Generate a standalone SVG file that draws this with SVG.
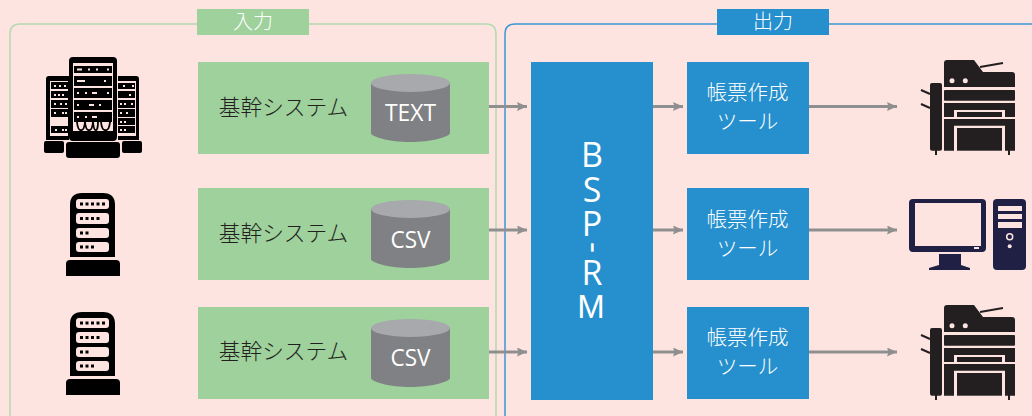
<svg xmlns="http://www.w3.org/2000/svg" xmlns:xlink="http://www.w3.org/1999/xlink" width="1032" height="416" viewBox="0 0 1032 416">
<style>
.t{font-family:"Noto Sans CJK JP","Noto Sans",sans-serif;font-weight:300}
.l{font-family:"Open Sans","Noto Sans",sans-serif}
.box{fill:#9ed19b}
.blue{fill:#268fcd}
.w{fill:#fff;text-anchor:middle}
.k{fill:#231f20;font-size:21.700px;text-anchor:middle}
.conn{stroke:#8f8f8f;stroke-width:3;fill:none;marker-end:url(#a)}
.dot{fill:#fde4e0}
</style>
<defs>
<marker id="a" markerUnits="userSpaceOnUse" markerWidth="10" markerHeight="10" refX="10" refY="4.500" orient="auto"><path d="M0 0L10 4.500L0 9L1.500 4.500z" fill="#8f8f8f"/></marker>
<g id="cyl">
<path d="M371 83V133C371 137 390 142 410 142S450 137 450 133V83z" fill="#808184"/>
<ellipse cx="410.500" cy="83" rx="39.500" ry="9" fill="#a7a9ac"/>
</g>
<g id="rack">
<path d="M70 205Q70 193 82 193H103Q115 193 115 205V257H70z" fill="#000"/>
<path d="M66 264Q66 260 70 260H116Q120 260 120 264V276H66z" fill="#000"/>
<g class="dot"><rect x="76" y="199" width="33" height="10" rx="3"/><rect x="76" y="213" width="33" height="11" rx="3"/><rect x="76" y="228" width="33" height="10" rx="3"/><rect x="76" y="242" width="33" height="10" rx="3"/></g>
<path d="M80 202.500h3v3h-3zM85.500 202.500h3v3h-3zM91 202.500h3v3h-3zM96.500 202.500h3v3h-3zM102 202.500h3v3h-3zM80 217h3v3h-3zM85.500 217h3v3h-3zM91 217h3v3h-3zM96.500 217h3v3h-3zM80 231.500h3v3h-3zM85.500 231.500h3v3h-3zM80 245.500h3v3h-3zM85.500 245.500h3v3h-3zM91 245.500h3v3h-3z" fill="#000"/>
</g>
<g id="printer" fill="#231f20">
<path d="M944 63Q944 60 947 60H974L983 72H1012Q1015 72 1015 75V87H944z"/>
<path d="M980 67L1003 63" stroke="#231f20" stroke-width="2" fill="none"/>
<circle cx="952" cy="80.700" r="2.500" fill="#fde4e0"/><circle cx="965.300" cy="80.700" r="2.500" fill="#fde4e0"/>
<rect x="944" y="90" width="71" height="10.700" rx="1"/>
<path d="M944 103H1015V117H1005V110H954V117H944z"/>
<rect x="957" y="112" width="45" height="5"/>
<path d="M944 119H1015V150.700H1005V125.700H954V150.700H944z"/>
<rect x="957" y="128" width="45" height="22.700"/>
<rect x="930" y="83" width="12" height="67.700" rx="2"/>
<path d="M935 150h2v5h-2zM1008 150h2v5h-2z"/>
<path d="M921 90L930 94M921 104L930 108" stroke="#231f20" stroke-width="2" fill="none"/>
</g>
</defs>
<rect width="1032" height="416" fill="#fde4e0"/>
<g id="panel-in">
<path d="M10 416V34Q10 24 20 24H486Q496 24 496 34V416" fill="none" stroke="#b3d9ae" stroke-width="1.500"/>
<rect x="197" y="9" width="112" height="26" class="box"/>
<text x="253" y="29" class="t w" font-size="20">入力</text>
</g>
<g id="panel-out">
<path d="M505 416V34Q505 24 515 24H1032" fill="none" stroke="#3a96d6" stroke-width="1.500"/>
<rect x="717" y="9" width="112" height="26" class="blue"/>
<text x="773" y="29" class="t w" font-size="20">出力</text>
</g>
<g id="connectors">
<path class="conn" d="M489 106.500H527"/><path class="conn" d="M489 230H527"/><path class="conn" d="M489 352H527"/>
<path class="conn" d="M653 106.500H683"/><path class="conn" d="M653 230H683"/><path class="conn" d="M653 352H683"/>
<path class="conn" d="M809 106.500H897"/><path class="conn" d="M809 230H897"/><path class="conn" d="M809 352H897"/>
</g>
<g id="server-1">
<path d="M46 79Q46 76 49 76H69V140H46zM118 76H136Q139 76 139 79V140H118z" fill="#000"/>
<path d="M50 81H68V136H50zM118 81H136V136H118z" fill="#fde4e0"/>
<path d="M51 82H68V89H51zM51 91H68V98H51zM51 100H68V108H51zM51 109H68V117H51zM51 126H68V133H51zM118 83H135V89H118zM118 91H135V98H118zM118 100H135V108H118zM118 109H135V117H118zM118 118H135V125H118zM118 126H135V133H118z" fill="#000"/>
<path d="M54 85h2v2h-2zM59 85h2v2h-2zM64 85h2v2h-2zM54 94h2v2h-2zM58 94h2v2h-2zM62 94h2v2h-2zM54 103h2v2h-2zM60 103h2v2h-2zM65 103h2v2h-2zM54 112h2v2h-2zM62 112h2v2h-2zM65 112h2v2h-2zM55 129h2v2h-2zM62 129h2v2h-2zM65 129h2v2h-2zM123 85h2v2h-2zM132 85h2v2h-2zM129 94h2v2h-2zM120 103h2v2h-2zM124 103h2v2h-2zM131 103h2v2h-2zM120 112h2v2h-2zM126 112h2v2h-2zM120 121h2v2h-2zM124 121h2v2h-2zM120 129h2v2h-2zM124 129h2v2h-2z" fill="#fde4e0"/>
<rect x="44" y="141" width="20" height="12" rx="2" fill="#000"/><rect x="122" y="141" width="20" height="12" rx="2" fill="#000"/>
<rect x="69" y="57" width="48" height="84" rx="4" fill="#000"/>
<rect x="73" y="63" width="40" height="68" fill="#fde4e0"/>
<path d="M74 66H112V73H74zM74 76H112V86H74zM74 88H112V98H74zM74 100H112V110H74zM74 112H112V122H74z" fill="#000"/>
<path d="M77 68.500h5v2h-5zM88 68.500h2v2h-2zM96 68.500h2v2h-2zM107 68.500h2v2h-2zM77 80h8v2h-8zM104 80h2v2h-2zM77 92h2v2h-2zM85 92h2v2h-2zM92 92h5v2h-5zM107 92h2v2h-2zM77 104h2v2h-2zM89 104h5v2h-5zM99 104h2v2h-2zM77 116h2v2h-2zM85 116h2v2h-2zM92 116h5v2h-5z" fill="#fde4e0"/>
<path d="M77 122C78 133 84 133 85 122C86 133 92 133 93 122C94 133 98 133 98 122M101 122C102 133 109 133 110 122" fill="none" stroke="#000" stroke-width="1.800"/>
<rect x="66" y="142" width="54" height="16" rx="3" fill="#000"/>
</g>
<g id="server-2"><use xlink:href="#rack"/></g>
<g id="server-3"><use xlink:href="#rack" y="119"/></g>
<g id="system-1">
<rect x="198" y="62" width="291" height="92" class="box"/>
<text x="283.500" y="115" class="t k">基幹システム</text>
<use xlink:href="#cyl"/>
<text x="410.500" y="120.500" class="l w" font-size="24" textLength="51" lengthAdjust="spacingAndGlyphs">TEXT</text>
</g>
<g id="system-2">
<rect x="198" y="188" width="291" height="92" class="box"/>
<text x="283.500" y="241" class="t k">基幹システム</text>
<use xlink:href="#cyl" y="126"/>
<text x="410.500" y="248" class="l w" font-size="24" textLength="40" lengthAdjust="spacingAndGlyphs">CSV</text>
</g>
<g id="system-3">
<rect x="198" y="307" width="291" height="92" class="box"/>
<text x="283.500" y="359" class="t k">基幹システム</text>
<use xlink:href="#cyl" y="245"/>
<text x="410.500" y="366" class="l w" font-size="24" textLength="40" lengthAdjust="spacingAndGlyphs">CSV</text>
</g>
<g id="bsp">
<rect x="531" y="62" width="122" height="338" class="blue"/>
<text class="l w" font-size="34" x="592 592 592 588.500 592 591" y="167 201.500 236 242 285 318" rotate="0 0 0 90 0 0">BSP-R<tspan font-family="Liberation Sans" font-size="33">M</tspan></text>
</g>
<g id="tool-1"><rect x="687" y="62" width="122" height="92" class="blue"/><text x="747.500" y="100" class="t w" font-size="20.500">帳票作成</text><text x="747.500" y="129" class="t w" font-size="20.500">ツール</text></g>
<g id="tool-2"><rect x="687" y="188" width="122" height="92" class="blue"/><text x="747.500" y="227" class="t w" font-size="20.500">帳票作成</text><text x="747.500" y="256" class="t w" font-size="20.500">ツール</text></g>
<g id="tool-3"><rect x="687" y="307" width="122" height="92" class="blue"/><text x="747.500" y="345" class="t w" font-size="20.500">帳票作成</text><text x="747.500" y="374" class="t w" font-size="20.500">ツール</text></g>
<g id="printer-1"><use xlink:href="#printer"/></g>
<g id="pc" fill="#1f2044">
<path d="M913 199H982Q986 199 986 203V248Q986 252 982 252H913Q909 252 909 248V203Q909 199 913 199zM915 203V246H981V203z" fill-rule="evenodd"/>
<path d="M939 254H961V265L970 268V270H929V268L939 265z"/>
<path d="M997 199H1022Q1026 199 1026 203V266Q1026 270 1022 270H997Q993 270 993 266V203Q993 199 997 199z"/>
<path d="M998 206H1022V211H998zM998 214H1022V219H998zM998 222H1022V228H998z" fill="#fde4e0"/>
<circle cx="1009.700" cy="236.700" r="3" fill="none" stroke="#fde4e0" stroke-width="1.500"/><circle cx="1009.700" cy="246.300" r="2" fill="#fde4e0"/>
<rect x="974" y="247" width="5" height="2" fill="#fde4e0"/>
</g>
<g id="printer-2"><use xlink:href="#printer" y="245"/></g>
</svg>
